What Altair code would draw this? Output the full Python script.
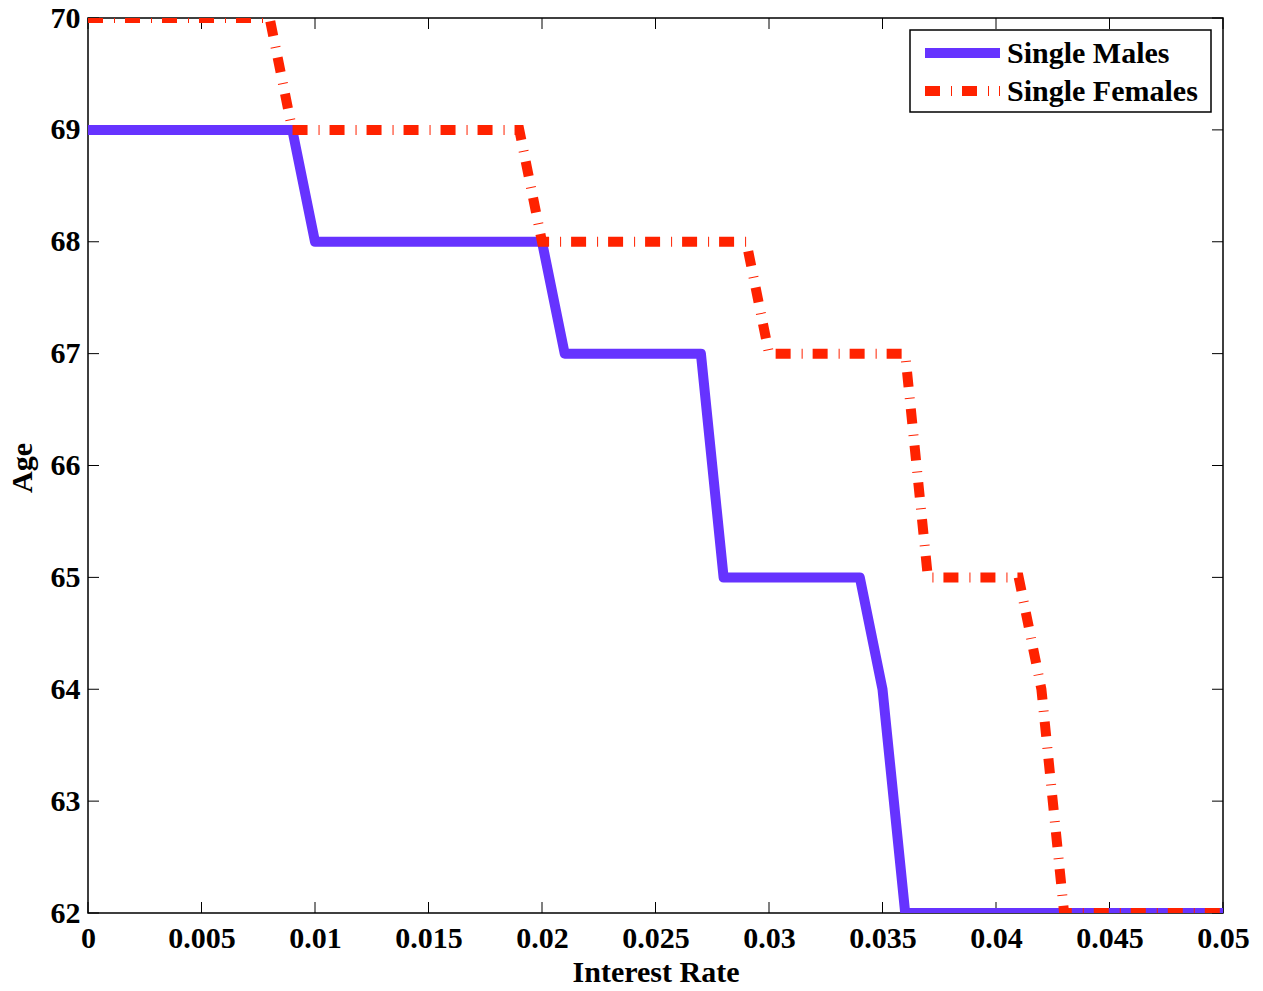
import altair as alt
import pandas as pd

# Single males: breakpoints of the step curve
male_rate = [0.0, 0.009, 0.010, 0.020, 0.021, 0.027, 0.028, 0.034, 0.035, 0.036, 0.050]
male_age = [69, 69, 68, 68, 67, 67, 65, 65, 64, 62, 62]

# Single females
female_rate = [0.0, 0.008, 0.009, 0.019, 0.020, 0.029, 0.030, 0.036, 0.037, 0.041, 0.042, 0.043, 0.050]
female_age = [70, 70, 69, 69, 68, 68, 67, 67, 65, 65, 64, 62, 62]

series_names = ["Single Males", "Single Females"]
series_colors = ["#6633FF", "#FF2200"]
series_dash = [[1, 0], [15, 11, 1, 10]]

x_ticks = [0, 0.005, 0.01, 0.015, 0.02, 0.025, 0.03, 0.035, 0.04, 0.045, 0.05]
y_ticks = [62, 63, 64, 65, 66, 67, 68, 69, 70]

W, H = 1135, 895
FONT = "Liberation Serif"
TICK = 11

males = pd.DataFrame({"rate": male_rate, "age": male_age, "o": range(len(male_rate))})
females = pd.DataFrame({"rate": female_rate, "age": female_age, "o": range(len(female_rate))})
xt = pd.DataFrame({"v": x_ticks})
yt = pd.DataFrame({"v": y_ticks})

xscale = alt.Scale(domain=[0, 0.05], nice=False, zero=False)
yscale = alt.Scale(domain=[62, 70], nice=False, zero=False)

xenc = alt.X("rate:Q", scale=xscale, axis=alt.Axis(
    values=x_ticks, title="Interest Rate", labelExpr="format(datum.value, '.3~f')",
    ticks=False, domain=False, grid=False, labelPadding=10, titlePadding=4,
    labelFlush=False, labelOverlap=False))
yenc = alt.Y("age:Q", scale=yscale, axis=alt.Axis(
    values=y_ticks, title="Age", format="d", ticks=False, domain=False, grid=False,
    labelPadding=8, titleX=-51, titleY=H / 2 + 2, titleBaseline="bottom",
    labelFlush=False, labelOverlap=False))

male_line = alt.Chart(males).mark_line(
    strokeWidth=10, clip=True, strokeJoin="round", strokeCap="butt", color=series_colors[0]
).encode(x=xenc, y=yenc, order="o:Q")
female_line = alt.Chart(females).mark_line(
    strokeWidth=10, clip=True, strokeJoin="miter", strokeCap="butt", color=series_colors[1],
    strokeDash=series_dash[1]
).encode(x=xenc, y=yenc, order="o:Q")

tk = dict(color="black", strokeWidth=1)
bx = alt.Chart(xt).mark_rule(**tk).encode(x=alt.X("v:Q", scale=xscale), y=alt.value(H), y2=alt.value(H - TICK))
tx = alt.Chart(xt).mark_rule(**tk).encode(x=alt.X("v:Q", scale=xscale), y=alt.value(0), y2=alt.value(TICK))
ly = alt.Chart(yt).mark_rule(**tk).encode(y=alt.Y("v:Q", scale=yscale), x=alt.value(0), x2=alt.value(TICK))
ry = alt.Chart(yt).mark_rule(**tk).encode(y=alt.Y("v:Q", scale=yscale), x=alt.value(W), x2=alt.value(W - TICK))

# custom legend (box, symbols, labels)
leg_df = pd.DataFrame({"name": series_names})
LX0, LX1, LY0, LY1 = 822, 1123, 12, 94
ROWS = [35, 73]
box = alt.Chart(leg_df.head(1)).mark_rect(fill="white", stroke="black", strokeWidth=1.5).encode(
    x=alt.value(LX0), x2=alt.value(LX1), y=alt.value(LY0), y2=alt.value(LY1))
leg_layers = [box]
for i, name in enumerate(series_names):
    d = leg_df[leg_df["name"] == name]
    leg_layers.append(alt.Chart(d).mark_rule(
        color=series_colors[i], strokeWidth=10, strokeDash=series_dash[i], strokeCap="butt"
    ).encode(x=alt.value(837), x2=alt.value(912), y=alt.value(ROWS[i])))
    leg_layers.append(alt.Chart(d).mark_text(
        font=FONT, fontSize=30, fontWeight="bold", color="black", align="left", baseline="middle"
    ).encode(x=alt.value(919), y=alt.value(ROWS[i] + 1), text="name:N"))

chart = alt.layer(bx, tx, ly, ry, male_line, female_line, *leg_layers).properties(
    width=W, height=H,
    autosize=alt.AutoSizeParams(type="none"),
    padding={"left": 88, "top": 18, "right": 40, "bottom": 78},
    background="white",
).configure_view(stroke="black", strokeWidth=1.5).configure_axis(
    labelFont=FONT, labelFontSize=30, labelFontWeight="bold", labelColor="black",
    titleFont=FONT, titleFontSize=30, titleFontWeight="bold", titleColor="black",
)

chart.save("out.html", embed_options={"renderer": "svg", "actions": False})
